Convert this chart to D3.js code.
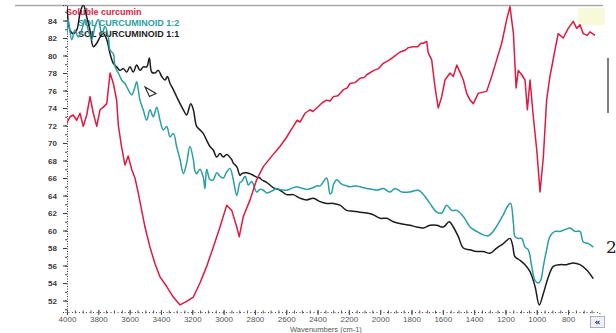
<!DOCTYPE html>
<html><head><meta charset="utf-8">
<script src="https://cdn.jsdelivr.net/npm/d3@7"></script>
<style>body{margin:0;background:#fff}svg{display:block}</style>
</head><body><svg id="chart" width="616" height="333"></svg>
<script>
// FTIR transmittance spectra, wavenumber axis reversed (4000 -> 600 cm-1)
const wavenumberTicks = d3.range(4000, 799, -200);
const transmittanceTicks = d3.range(52, 85, 2);
const seriesNames = ["Soluble curcumin", "SOL CURCUMINOID 1:2", "SOL CURCUMINOID 1:1"];
const seriesColors = ["#e2183f", "#2a9ea4", "#1c1c1c"];

// [wavenumber cm-1, %T]
const solubleCurcumin = [[4000,72.3],[3981,73.0],[3960,73.2],[3938,72.6],[3917,73.4],[3896,71.9],[3874,73.2],[3853,75.3],[3832,73.4],[3810,71.9],[3789,73.8],[3768,74.1],[3746,74.5],[3725,78.0],[3704,76.8],[3683,74.9],[3672,72.0],[3651,69.5],[3630,67.5],[3609,68.5],[3587,67.0],[3566,66.0],[3545,64.3],[3523,62.3],[3502,60.4],[3470,58.1],[3438,56.2],[3406,54.7],[3363,53.6],[3321,52.4],[3278,51.5],[3236,51.9],[3193,52.4],[3151,54.0],[3108,55.9],[3066,58.1],[3023,60.4],[2980,62.9],[2948,62.3],[2916,60.4],[2900,59.3],[2874,61.6],[2831,63.5],[2789,65.8],[2746,67.3],[2683,68.7],[2640,69.6],[2600,70.6],[2555,71.9],[2530,72.6],[2512,72.4],[2480,73.4],[2448,73.8],[2430,73.6],[2405,74.0],[2370,74.6],[2342,74.9],[2320,74.8],[2299,75.3],[2270,75.4],[2235,76.1],[2210,76.3],[2193,76.8],[2160,76.9],[2129,77.4],[2100,77.5],[2086,77.8],[2040,78.3],[2010,78.5],[1980,79.1],[1940,79.5],[1910,79.9],[1873,80.4],[1840,80.6],[1820,80.9],[1789,81.0],[1760,81.0],[1740,81.4],[1725,81.4],[1703,81.6],[1693,80.3],[1671,79.5],[1650,76.4],[1629,74.0],[1607,75.3],[1586,77.2],[1554,78.0],[1533,77.6],[1511,78.9],[1490,78.1],[1469,77.2],[1448,75.7],[1426,74.9],[1405,74.5],[1373,75.7],[1320,75.9],[1288,77.6],[1256,79.5],[1224,81.4],[1192,84.1],[1171,85.6],[1149,82.5],[1132,76.3],[1118,78.3],[1096,77.8],[1075,77.2],[1060,73.8],[1043,77.2],[1022,73.0],[1000,69.2],[979,64.4],[958,68.4],[937,74.9],[916,77.6],[884,80.6],[863,82.5],[831,82.0],[799,83.1],[767,83.9],[745,83.1],[724,83.5],[703,82.5],[677,82.3],[660,82.7],[628,82.3]];

const curcuminoid12 = [[4000,82.5],[3992,84.1],[3970,81.8],[3949,82.9],[3928,82.1],[3906,82.9],[3885,84.1],[3864,82.9],[3842,81.8],[3821,83.3],[3800,84.1],[3778,82.5],[3757,83.3],[3736,82.1],[3725,80.6],[3704,80.2],[3693,78.7],[3672,78.0],[3651,77.2],[3630,76.8],[3609,76.1],[3587,75.5],[3566,76.4],[3555,77.0],[3534,74.9],[3513,73.8],[3491,72.6],[3470,73.8],[3449,73.0],[3427,74.1],[3406,72.6],[3385,71.5],[3363,71.9],[3342,70.7],[3321,71.1],[3300,69.6],[3278,68.1],[3257,66.5],[3236,67.7],[3215,69.6],[3193,68.1],[3183,66.8],[3172,66.5],[3151,67.0],[3130,66.1],[3119,64.8],[3108,67.0],[3087,65.8],[3066,65.8],[3044,66.6],[3023,66.2],[3002,66.0],[2980,66.7],[2959,67.1],[2938,65.8],[2916,64.0],[2895,65.5],[2884,65.6],[2863,66.2],[2852,65.7],[2842,65.2],[2820,65.6],[2789,64.4],[2768,64.7],[2746,64.6],[2725,64.3],[2704,64.4],[2683,64.6],[2661,64.8],[2640,64.7],[2597,64.6],[2555,64.9],[2534,65.0],[2512,64.9],[2469,64.7],[2427,64.9],[2405,65.1],[2384,65.1],[2342,66.0],[2320,64.2],[2310,64.3],[2299,65.2],[2278,65.8],[2246,65.3],[2214,65.1],[2193,65.0],[2150,65.1],[2129,65.0],[2086,64.8],[2044,64.7],[2022,64.6],[1980,64.8],[1937,64.4],[1905,64.8],[1862,64.4],[1810,64.4],[1756,64.6],[1714,63.9],[1682,63.1],[1639,62.1],[1607,62.0],[1575,62.9],[1543,62.3],[1511,62.3],[1469,61.6],[1426,60.4],[1384,59.9],[1342,59.5],[1310,59.4],[1278,59.9],[1246,60.8],[1214,61.8],[1182,62.9],[1167,63.1],[1149,60.8],[1139,59.3],[1118,59.1],[1096,59.1],[1075,58.1],[1054,57.8],[1032,55.9],[1011,54.3],[990,54.0],[975,54.3],[958,55.9],[937,57.8],[916,59.3],[884,59.9],[852,59.9],[820,60.1],[788,60.3],[756,59.9],[724,59.9],[703,58.7],[671,58.5],[639,58.1]];

const curcuminoid11 = [[4000,85.6],[3981,82.9],[3960,82.5],[3938,82.9],[3917,84.8],[3896,85.8],[3874,84.4],[3853,82.9],[3832,81.0],[3810,81.4],[3789,82.1],[3768,82.5],[3746,81.8],[3725,80.2],[3704,79.1],[3683,78.7],[3662,78.3],[3640,78.5],[3619,78.1],[3598,78.7],[3577,78.1],[3555,78.9],[3534,78.3],[3513,78.7],[3491,78.7],[3474,79.7],[3459,78.1],[3438,78.0],[3417,78.3],[3395,77.6],[3374,77.2],[3359,77.6],[3342,76.8],[3321,76.1],[3300,75.3],[3278,74.5],[3257,73.8],[3236,73.2],[3210,74.5],[3193,73.8],[3172,71.9],[3151,71.5],[3130,71.1],[3108,70.3],[3087,69.6],[3066,69.2],[3044,68.4],[3023,68.8],[3002,68.4],[2980,68.7],[2948,68.1],[2938,67.7],[2916,67.3],[2895,66.3],[2884,66.5],[2852,66.6],[2820,66.4],[2789,66.1],[2768,66.0],[2757,65.8],[2725,65.5],[2683,64.9],[2640,64.6],[2597,64.1],[2555,64.1],[2512,63.7],[2469,63.5],[2427,63.7],[2384,63.3],[2342,63.1],[2299,63.1],[2257,62.9],[2214,62.3],[2172,62.2],[2129,62.1],[2086,62.0],[2044,61.8],[2001,61.4],[1958,61.4],[1916,61.0],[1873,60.8],[1810,60.6],[1767,60.4],[1725,60.3],[1682,60.6],[1639,60.6],[1597,60.4],[1559,61.0],[1533,60.4],[1501,59.3],[1469,58.0],[1426,57.8],[1384,57.6],[1342,57.6],[1299,57.4],[1256,58.0],[1214,58.5],[1171,59.1],[1154,58.3],[1139,57.0],[1107,56.6],[1075,56.1],[1043,55.3],[1011,53.6],[984,51.5],[958,52.8],[926,54.7],[894,55.9],[852,56.1],[810,56.1],[767,56.3],[724,56.1],[681,55.5],[639,54.5]];

const seriesData = [solubleCurcumin, curcuminoid12, curcuminoid11];

const svg = d3.select("#chart");
const plot = {left: 67, right: 599.4, top: 5, bottom: 312};

const x = d3.scaleLinear().domain([4000, 600]).range([plot.left, plot.right]);
const y = d3.scaleLinear().domain([50.69, 85.77]).range([plot.bottom, plot.top]);

// window frame bits around the plot
svg.append("rect").attr("x", 578).attr("y", 8).attr("width", 27).attr("height", 17)
  .attr("fill", "#f6f7cf").attr("opacity", 0.8);
svg.append("line").attr("x1", 15).attr("x2", 603).attr("y1", 5.5).attr("y2", 5.5)
  .attr("stroke", "#a9a9a9").attr("stroke-width", 1.5);
svg.append("line").attr("x1", 608).attr("x2", 608).attr("y1", 58).attr("y2", 113)
  .attr("stroke", "#555").attr("stroke-width", 1.5);
svg.append("text").attr("x", 606).attr("y", 253).attr("font-family", "DejaVu Serif")
  .attr("font-size", 17).attr("fill", "#222").text("2");
svg.append("rect").attr("x", 590.5).attr("y", 316.5).attr("width", 14).attr("height", 11)
  .attr("fill", "#eef0f8").attr("stroke", "#9aa0b0").attr("stroke-width", 0.8);
svg.append("text").attr("x", 597.5).attr("y", 325).attr("text-anchor", "middle")
  .attr("font-family", "DejaVu Sans").attr("font-weight", "bold").attr("font-size", 9)
  .attr("fill", "#1b2a6b").text("«");

// y axis
const yAxis = svg.append("g").attr("transform", `translate(${plot.left},0)`)
  .call(d3.axisLeft(y).tickValues(transmittanceTicks).tickSize(4).tickPadding(6).tickFormat(d3.format("d")));
yAxis.select(".domain").attr("stroke", "#333").attr("stroke-dasharray", "1,1.5");
yAxis.selectAll(".tick line").attr("stroke", "#333");
yAxis.selectAll("text").attr("font-family", "Liberation Sans").attr("font-weight", "bold")
  .attr("font-size", 8).attr("fill", "#3a3a3a");
svg.append("g").attr("transform", `translate(${plot.left},0)`)
  .call(d3.axisLeft(y).tickValues(d3.range(51, 86, 1)).tickSize(2).tickFormat(""))
  .call(g => g.select(".domain").remove())
  .selectAll("line").attr("stroke", "#444");

// x axis
const xAxis = svg.append("g").attr("transform", `translate(0,${plot.bottom})`)
  .call(d3.axisBottom(x).tickValues(wavenumberTicks).tickSize(3).tickPadding(1).tickFormat(d3.format("d")));
xAxis.select(".domain").attr("stroke", "#444").attr("stroke-dasharray", "1,2.5");
xAxis.selectAll(".tick line").attr("stroke", "#444").attr("y1", -2);
xAxis.selectAll("text").attr("font-family", "Liberation Sans").attr("font-size", 8).attr("fill", "#555");
svg.append("g").attr("transform", `translate(0,${plot.bottom})`)
  .call(d3.axisBottom(x).tickValues(d3.range(4000, 620, -50)).tickSize(1.5).tickFormat(""))
  .call(g => g.select(".domain").remove())
  .selectAll("line").attr("stroke", "#555").attr("y1", -1.5);

svg.append("text").attr("x", 290).attr("y", 331.5).attr("font-family", "Liberation Sans")
  .attr("font-size", 7.5).attr("fill", "#555").text("Wavenumbers (cm-1)");

// legend (colored labels)
const legendPos = [[66, 15], [78, 26], [78, 37]];
seriesNames.forEach((name, i) => {
  svg.append("text").attr("x", legendPos[i][0]).attr("y", legendPos[i][1])
    .attr("font-family", "Liberation Sans").attr("font-weight", "bold").attr("font-size", 9)
    .attr("fill", seriesColors[i]).text(name);
});

// spectra
svg.append("clipPath").attr("id", "plotClip").append("rect")
  .attr("x", plot.left).attr("y", plot.top).attr("width", plot.right - plot.left).attr("height", plot.bottom - plot.top);
const lines = svg.append("g").attr("clip-path", "url(#plotClip)");
const lineSharp = d3.line().x(d => x(d[0])).y(d => y(d[1]));
const lineSmooth = d3.line().x(d => x(d[0])).y(d => y(d[1])).curve(d3.curveCatmullRom.alpha(0.5));
[2, 1, 0].forEach(i => {
  lines.append("path").datum(seriesData[i])
    .attr("d", i === 0 ? lineSharp : lineSmooth)
    .attr("fill", "none").attr("stroke", seriesColors[i]).attr("stroke-width", 1.5)
    .attr("stroke-linejoin", "round");
});

// mouse pointer
svg.append("path").attr("d", "M145,87 L156,93.5 L149.5,96.5 Z")
  .attr("fill", "#fff").attr("stroke", "#222").attr("stroke-width", 1.1);
</script></body></html>
